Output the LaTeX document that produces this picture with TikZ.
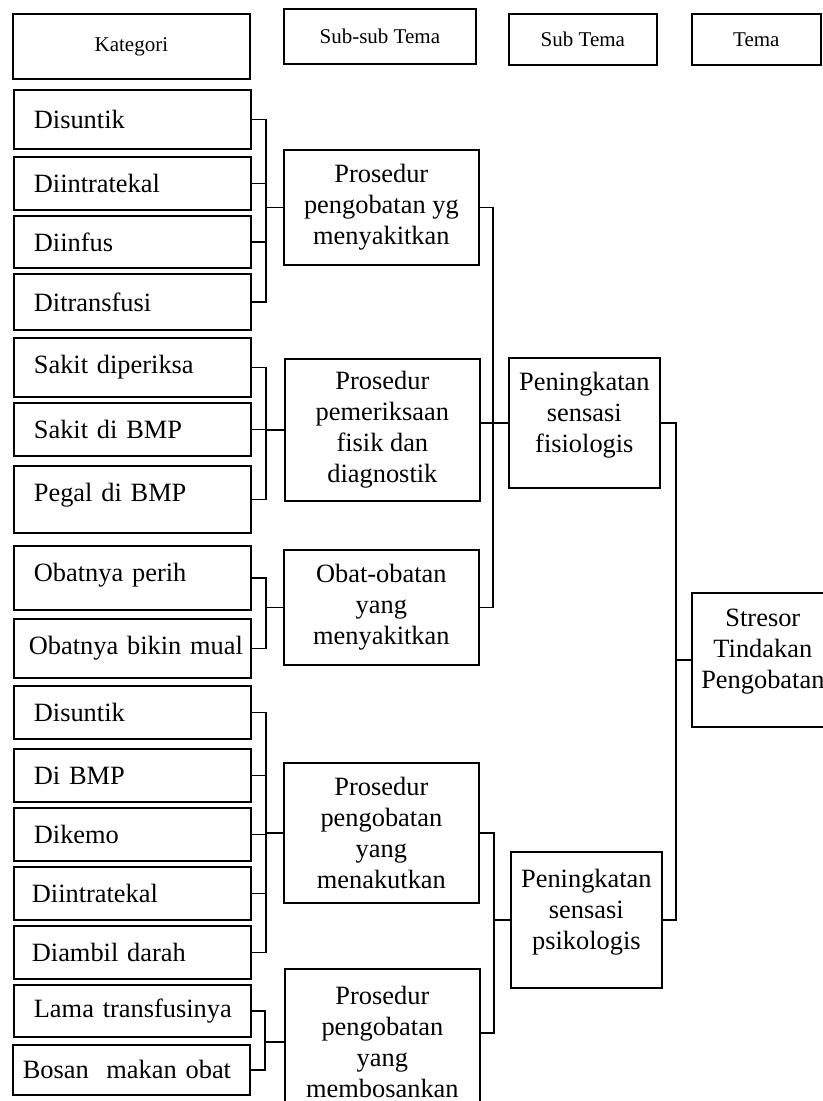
\documentclass[tikz,border=0pt]{standalone}
\usepackage{fontspec}
\setmainfont{Liberation Serif}

\begin{document}
\begin{tikzpicture}[x=0.75pt, y=-0.75pt, line width=1.3pt,
      box/.style = {draw, anchor=north west, inner sep=2pt},
      head/.style = {box, align=center, font=\fontsize{15.75}{18}\selectfont},
      kat/.style = {box, minimum width=177.75pt, text width=147.75pt, inner xsep=15pt,
                    align=left, font=\fontsize{19.8}{23.2}\selectfont},
      tema/.style = {box, align=center, font=\fontsize{19.8}{23.2}\selectfont},
      naik/.style = {text width=#1, text depth=62.7pt}]
    \useasboundingbox (0,0) rectangle (823,1101);
    \clip (0,0) rectangle (823,1101);

    % judul kolom
    \node[head, minimum width=177.75pt, minimum height=48.75pt] (kategori) at (12,13) {Kategori};
    \node[head, minimum width=144pt, minimum height=41.25pt] (subsub) at (283,8) {Sub-sub Tema};
    \node[head, minimum width=111pt, minimum height=38.25pt] (subtema) at (508,13) {Sub Tema};
    \node[head, minimum width=96.75pt, minimum height=38.25pt] (tema) at (691,13) {Tema};

    % kategori
    \node[kat, minimum height=44.25pt] (k1) at (13,89) {Disuntik};
    \node[kat, minimum height=39.75pt] (k2) at (13,156) {Diintratekal};
    \node[kat, minimum height=39pt] (k3) at (13,215) {Diinfus};
    \node[kat, minimum height=42pt] (k4) at (13,273) {Ditransfusi};
    \node[kat, minimum height=44.25pt] (k5) at (13,337) {\mbox{Sakit diperiksa}};
    \node[kat, minimum height=39.75pt] (k6) at (13,402) {Sakit di BMP};
    \node[kat, minimum height=50.25pt, text depth=11pt] (k7) at (13,465) {Pegal di BMP};
    \node[kat, minimum height=48pt, text depth=9pt] (k8) at (13,545) {Obatnya perih};
    \node[kat, minimum height=44.25pt, inner xsep=11.25pt, text width=155.25pt] (k9) at (13,618) {\mbox{Obatnya bikin mual}};
    \node[kat, minimum height=39.75pt] (k10) at (13,685) {Disuntik};
    \node[kat, minimum height=39.75pt] (k11) at (13,748) {Di BMP};
    \node[kat, minimum height=39.75pt] (k12) at (13,807) {Dikemo};
    \node[kat, minimum height=39.75pt, inner xsep=13.5pt, text width=150.75pt] (k13) at (13,866) {Diintratekal};
    \node[kat, minimum height=39.75pt, inner xsep=13.5pt, text width=150.75pt] (k14) at (13,925) {\mbox{Diambil darah}};
    \node[kat, minimum height=39pt] (k15) at (13,984) {\mbox{Lama transfusinya}};
    \node[kat, minimum height=37.5pt, inner xsep=7.5pt, text width=162.75pt] (k16) at (12,1044) {\mbox{Bosan\ \ makan obat}};

    % sub-sub tema
    \node[tema, minimum width=146.25pt, minimum height=86.25pt] (ps1) at (283,149) {Prosedur\\pengobatan yg\\menyakitkan};
    \node[tema, minimum width=146.25pt, minimum height=106.5pt] (ps2) at (284,358) {Prosedur\\pemeriksaan\\fisik dan\\diagnostik};
    \node[tema, minimum width=146.25pt, minimum height=86.25pt] (ps3) at (283,549) {Obat-obatan\\yang\\menyakitkan};
    \node[tema, minimum width=146.25pt, minimum height=105pt] (ps4) at (283,762) {Prosedur\\pengobatan\\yang\\menakutkan};
    \node[tema, minimum width=146.25pt, minimum height=109.5pt] (ps5) at (284,968) {Prosedur\\pengobatan\\yang\\membosankan};

    % sub tema dan tema
    \node[tema, naik=106pt, minimum width=113.25pt, minimum height=97.5pt] (st1) at (508,357) {Peningkatan\\sensasi\\fisiologis};
    \node[tema, naik=106pt, minimum width=113.25pt, minimum height=102pt] (st2) at (510,851) {Peningkatan\\sensasi\\psikologis};
    \node[tema, naik=100pt, minimum width=106.5pt, minimum height=100.5pt] (tm) at (691,592) {Stresor\\Tindakan\\Pengobatan};

    % garis penghubung
    \coordinate (j1) at (266,0);
    \coordinate (j5) at (265,0);
    \coordinate (j6) at (493,0);
    \coordinate (j7) at (494,0);
    \coordinate (j8) at (676,0);
    \coordinate (e5) at ([yshift=6.75pt]ps5.east);

    \draw (k1.east) -| (k4.east -| j1) -- (k4.east);
    \foreach \k in {k2,k3} \draw (\k.east) -- (\k.east -| j1);
    \draw (j1 |- ps1.west) -- (ps1.west);

    \draw (k5.east) -| (k7.east -| j1) -- (k7.east);
    \draw (k6.east) -- (k6.east -| j1);
    \draw (j1 |- ps2.west) -- (ps2.west);

    \draw (k8.east) -| (k9.east -| j1) -- (k9.east);
    \draw (j1 |- ps3.west) -- (ps3.west);

    \draw (k10.east) -| (k14.east -| j1) -- (k14.east);
    \foreach \k in {k11,k12,k13} \draw (\k.east) -- (\k.east -| j1);
    \draw (j1 |- ps4.west) -- (ps4.west);

    \draw (k15.east) -| (k16.east -| j5) -- (k16.east);
    \draw (j5 |- ps5.west) -- (ps5.west);

    \draw (ps1.east) -| (ps3.east -| j6) -- (ps3.east);
    \draw (ps2.east |- st1.west) -- (st1.west);

    \draw (ps4.east) -| (e5 -| j7) -- (e5);
    \draw (j7 |- st2.west) -- (st2.west);

    \draw (st1.east) -| (st2.east -| j8) -- (st2.east);
    \draw (j8 |- tm.west) -- (tm.west);
\end{tikzpicture}
\end{document}
